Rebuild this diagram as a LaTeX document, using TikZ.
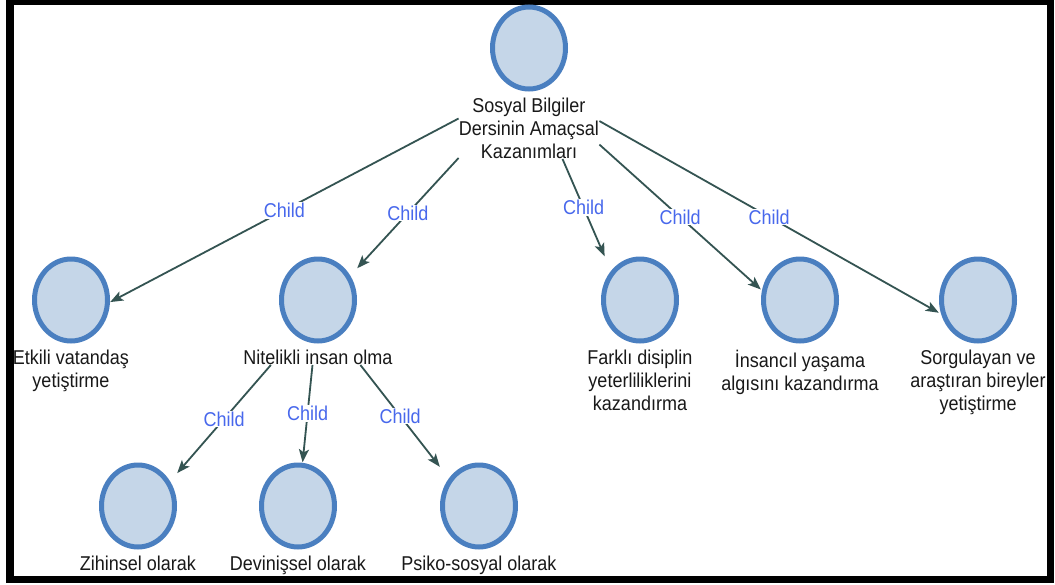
\documentclass[tikz,border=0pt]{standalone}
\usepackage{fontspec}
\setmainfont{Liberation Sans}[FakeStretch=0.9]
\usetikzlibrary{positioning}
\usetikzlibrary{arrows.meta,fit}

\begin{document}
\begin{tikzpicture}
            [x=1pt, y=-1pt,
            ball/.style={minimum width=78pt, minimum height=87pt, inner sep=0pt,
                path picture={\draw[line width=5pt, draw=ballline, fill=ballfill]
                    (path picture bounding box.center) ellipse [x radius=36.5pt, y radius=41pt];}},
            txt/.style={font=\fontsize{20}{23}\selectfont, align=center, inner sep=0pt, text=black!90},
            link/.style={draw=linkcolor, line width=1.8pt, -{Stealth[length=13pt, width=10pt, inset=3pt]}},
            tag/.style={font=\fontsize{20}{23}\selectfont, text=tagcolor, fill=white, inner sep=1pt},
            ]
            \definecolor{ballline}{RGB}{74,127,192}
            \definecolor{ballfill}{RGB}{197,214,232}
            \definecolor{linkcolor}{RGB}{52,84,82}
            \definecolor{tagcolor}{RGB}{72,104,236}
            \useasboundingbox (0,0) rectangle (1055,584);
            \fill[black] (6,0) rectangle (1054,583);
            \fill[white] (14,5) rectangle (1047,576);

            % top
            \node[ball] (root) at (529,48) {};
            \node[txt, below=6pt of root] (roottxt) {Sosyal Bilgiler\\Dersinin Amaçsal\\Kazanımları};
            \node[fit=(root)(roottxt), inner sep=0pt] (rootg) {};

            % first row
            \node[ball] (etkili) at (71,300) {};
            \node[txt, below=6pt of etkili] (etkilitxt) {Etkili vatandaş\\yetiştirme};
            \node[ball] (nitelikli) at (318,300) {};
            \node[txt, below=6pt of nitelikli] (niteliklitxt) {Nitelikli insan olma};
            \node[fit=(nitelikli)(niteliklitxt), inner sep=0pt] (niteliklig) {};
            \node[ball] (farkli) at (640,300) {};
            \node[txt, below=6pt of farkli] (farklitxt) {Farklı disiplin\\yeterliliklerini\\kazandırma};
            \node[ball] (insancil) at (800,300) {};
            \node[txt, below=6pt of insancil] (insanciltxt) {İnsancıl yaşama\\algısını kazandırma};
            \node[ball] (sorgu) at (978,300) {};
            \node[txt, below=6pt of sorgu] (sorgutxt) {Sorgulayan ve\\araştıran bireyler\\yetiştirme};

            % second row
            \node[ball] (zihinsel) at (138,506) {};
            \node[txt, below=6pt of zihinsel] (zihinseltxt) {Zihinsel olarak};
            \node[ball] (devinis) at (298,506) {};
            \node[txt, below=6pt of devinis] (devinistxt) {Devinişsel olarak};
            \node[ball] (psiko) at (479,506) {};
            \node[txt, below=6pt of psiko] (psikotxt) {Psiko-sosyal olarak};

            \draw[link] (rootg) -- node[tag]{Child} (etkili.357);
            \draw[link] (rootg) -- node[tag]{Child} (nitelikli.39);
            \draw[link] (rootg) -- node[tag]{Child} (farkli.129);
            \draw[link] (rootg) -- node[tag]{Child} (insancil.165);
            \draw[link] (rootg) -- node[tag]{Child} (sorgu.198);
            \draw[link] (niteliklig) -- node[tag]{Child} (zihinsel.40);
            \draw[link] (niteliklig) -- node[tag]{Child} (devinis.84);
            \draw[link] (niteliklig) -- node[tag]{Child} (psiko.135);
\end{tikzpicture}
\end{document}
